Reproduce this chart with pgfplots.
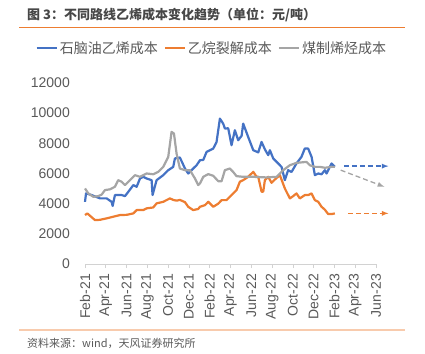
\documentclass[border=0pt]{standalone}
\usepackage{fontspec}
\setmainfont{Liberation Sans}
\newfontfamily\cjk{Noto Sans CJK SC}
\usepackage{pgfplots}
\pgfplotsset{compat=1.18}
\definecolor{cblue}{HTML}{4472C4}
\definecolor{corange}{HTML}{ED7D31}
\definecolor{cgray}{HTML}{A5A5A5}
\definecolor{ctext}{HTML}{595959}
\definecolor{cpeach}{HTML}{F8CBAD}
\begin{document}
\begin{tikzpicture}
\useasboundingbox (0pt,0pt) rectangle (425pt,-353pt);
% title
\node[anchor=west,inner sep=0pt,text=ctext!80!black] at (27pt,-15pt) {\cjk\fontsize{13}{15}\selectfont\bfseries 图 3：不同路线乙烯成本变化趋势（单位：元/吨）};
\draw[corange,line width=0.9pt] (19pt,-27pt) -- (405pt,-27pt);
\draw[cpeach,line width=1.6pt] (19pt,-330pt) -- (405pt,-330pt);
\node[anchor=west,inner sep=0pt,text=ctext] at (27pt,-343pt) {\cjk\fontsize{11}{13}\selectfont 资料来源：wind，天风证券研究所};
\begin{axis}[
  scale only axis,
  width=291pt, height=181pt,
  anchor=south west, at={(85pt,-264pt)},
  xmin=0, xmax=28, ymin=0, ymax=12000,
  clip=false,
  scaled y ticks=false,
  axis x line*=bottom, axis y line*=left,
  x axis line style={draw=gray!35,-},
  y axis line style={draw=none},
  xtick={0,2,...,28},
  xticklabels={Feb-21,Apr-21,Jun-21,Aug-21,Oct-21,Dec-21,Feb-22,Apr-22,Jun-22,Aug-22,Oct-22,Dec-22,Feb-23,Apr-23,Jun-23},
  ytick={0,2000,...,12000},
  x tick style={draw=gray!35, line width=0.6pt},
  y tick style={draw=none},
  tick align=outside,
  major tick length=4pt,
  x tick label style={rotate=90, anchor=east, inner sep=0pt, font=\fontsize{14}{16}\selectfont, text=ctext},
  xticklabel shift=6pt,
  y tick label style={anchor=east, inner sep=0pt, font=\fontsize{14}{16}\selectfont, text=ctext},
  yticklabel shift=11pt,
  /pgf/number format/assume math mode=true,
  /pgf/number format/1000 sep={},
  legend style={at={(0.436,1.193)}, anchor=center, draw=none, fill=none,
    font=\cjk\fontsize{14}{16}\selectfont, text=ctext, legend columns=3,
    /tikz/every even column/.append style={column sep=4pt}, inner sep=0pt},
  legend image code/.code={\draw[#1,line width=2.2pt] (0pt,0pt) -- (20pt,0pt);},
  every axis plot/.append style={line width=2.2pt, line join=round},
]
\addplot[cblue] coordinates {
(0,4120) (0.1,4680) (0.64,4570) (1.44,4350) (2.08,4350) (2.56,4125) (2.66,3850)
(2.88,4570) (3.53,4570) (3.85,4500) (4.17,4790) (4.65,5230) (4.97,5120) (5.29,5670)
(5.61,5780) (5.93,5670) (6.41,5560) (6.5,4570) (6.89,5560) (7.53,5890) (8.01,6220)
(8.49,6440) (8.65,7000) (9.13,7060) (9.62,6330) (9.93,6000) (10.74,6550) (11.06,6880)
(11.38,6900) (11.7,7435) (12.34,7655) (12.66,8095) (12.98,9640) (13.3,9300) (13.46,8980)
(13.78,9000) (14.1,7875) (14.42,8870) (14.74,8205) (15.07,8500) (15.22,9310) (15.7,8425)
(16.19,7545) (16.67,7400) (16.99,8095) (17.31,7600) (17.63,7215) (17.79,7545) (18.11,7000)
(18.59,6665) (18.91,6440) (19.23,5560) (19.55,6220) (19.87,6100) (20.35,6665) (20.83,7105)
(21.15,7655) (21.47,7655) (21.8,7105) (22.12,5890) (22.44,6000) (22.76,5950) (23.08,6220)
(23.24,6000) (23.72,6665) (24.04,6440)
};
\addlegendentry{石脑油乙烯成本}
\addplot[corange] coordinates {
(0,3245) (0.22,3355) (0.48,3200) (0.96,2910) (1.44,2930) (2.08,3025) (2.72,3135)
(3.37,3245) (4.01,3260) (4.65,3355) (4.97,3575) (5.61,3575) (5.93,3690) (6.57,3750)
(6.89,4020) (7.53,4125) (8.17,4350) (8.49,4250) (8.81,4200) (9.13,4250) (9.62,4100)
(9.93,3795) (10.41,3575) (10.9,3650) (11.06,3795) (11.54,3900) (11.86,4125) (12.34,3795)
(12.82,4000) (13.14,4235) (13.62,4235) (13.94,4455) (14.26,4680) (14.58,4900) (14.9,5450)
(15.22,5560) (15.7,5780) (16.19,6110) (16.51,5780) (16.67,5780) (16.99,4790) (17.15,4800)
(17.31,5560) (17.63,5780) (17.95,5380) (18.27,5600) (18.75,5890) (19.23,5010) (19.71,4350)
(20.03,4500) (20.35,4680) (20.67,4350) (21.15,4570) (21.47,4570) (21.8,4680) (22.12,4235)
(22.44,4125) (22.76,3795) (23.08,3600) (23.4,3310) (23.72,3310) (24.04,3355)
};
\addlegendentry{乙烷裂解成本}
\addplot[cgray] coordinates {
(0,5010) (0.32,4680) (0.8,4455) (1.28,4500) (1.6,4600) (1.92,4900) (2.4,4950)
(2.88,5120) (3.2,5560) (3.53,5450) (3.85,5230) (4.33,5560) (4.81,5890) (5.29,5780)
(5.93,6000) (6.57,5950) (7.05,6110) (7.53,6440) (8.01,7105) (8.33,8760) (8.56,8650)
(8.81,7325) (9.13,6330) (9.62,6220) (10.1,6220) (10.58,5670) (10.9,5230) (11.06,5340)
(11.38,5780) (11.86,5960) (12.34,5850) (12.82,5490) (13.14,5490) (13.46,6220) (13.94,6330)
(14.26,6100) (14.58,5825) (15.22,5780) (16.19,5780) (17.47,5740) (18.43,5780) (19.07,6220)
(19.71,6550) (20.35,6705) (21.32,6770) (21.63,6550) (22.12,6440) (22.6,6440) (23.08,6380)
(23.72,6440) (24.04,6440)
};
\addlegendentry{煤制烯烃成本}
\addplot[cblue, forget plot, line width=1.3pt, dash pattern=on 5pt off 3pt, -latex] coordinates {(24.9,6490) (29.2,6490)};
\addplot[cgray, forget plot, line width=1.3pt, dash pattern=on 5pt off 3pt, -latex] coordinates {(24.6,6225) (28.8,5120)};
\addplot[corange, forget plot, line width=1.3pt, dash pattern=on 5pt off 3pt, -latex] coordinates {(25.3,3358) (29.2,3358)};
\end{axis}
\end{tikzpicture}
\end{document}
